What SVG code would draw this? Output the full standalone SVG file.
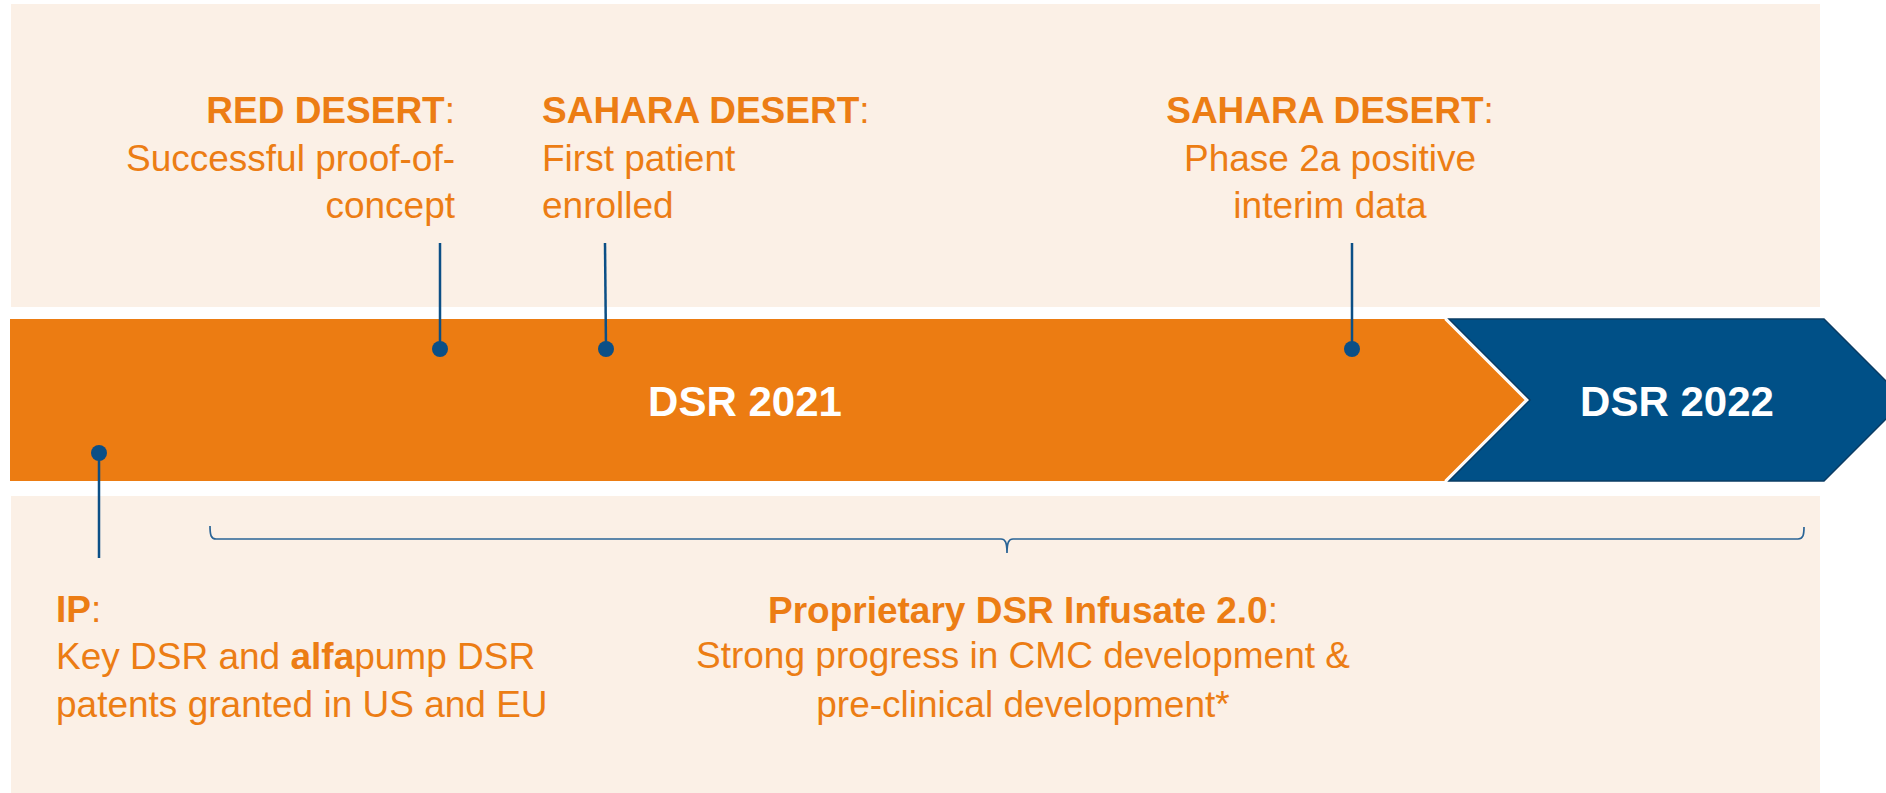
<svg xmlns="http://www.w3.org/2000/svg" width="1886" height="793" viewBox="0 0 1886 793">
  <style>
    .band { fill: #fbf0e6; }
    .lbl { font-family: "Liberation Sans", Arial, sans-serif; font-size: 37px; fill: #ec7d14; }
    .b { font-weight: bold; }
    .year { font-family: "Liberation Sans", Arial, sans-serif; font-size: 42px; font-weight: bold; fill: #ffffff; text-anchor: middle; }
    .stem { stroke: #0b4f86; stroke-width: 2.5; fill: none; }
    .dot { fill: #0b4f86; }
    .brace { stroke: #2a6496; stroke-width: 1.7; fill: none; }
  </style>
  <rect width="1886" height="793" fill="#ffffff"/>

  <!-- background bands -->
  <rect class="band" x="11" y="4" width="1809" height="303"/>
  <rect class="band" x="11" y="496" width="1809" height="297"/>

  <!-- timeline arrows -->
  <g id="arrow-2021">
    <polygon points="10,319 1446,319 1527,400 1446,481 10,481" fill="#ec7c12"/>
    <text class="year" x="745" y="416">DSR 2021</text>
  </g>
  <g id="arrow-2022">
    <polygon points="1449,319 1824,319 1905,400 1824,481 1449,481 1530,400" fill="#005087" stroke="#0a3c64" stroke-width="1.5"/>
    <polyline points="1445,319 1526,400 1445,481" fill="none" stroke="#ffffff" stroke-width="2"/>
    <text class="year" x="1677" y="416">DSR 2022</text>
  </g>

  <!-- milestone leaders and brace -->
  <g id="connectors">
    <line class="stem" x1="440" y1="243" x2="440" y2="349"/>
    <circle class="dot" cx="440" cy="349" r="8"/>
    <line class="stem" x1="605" y1="243" x2="606" y2="349"/>
    <circle class="dot" cx="606" cy="349" r="8"/>
    <line class="stem" x1="1352" y1="243" x2="1352" y2="349"/>
    <circle class="dot" cx="1352" cy="349" r="8"/>
    <line class="stem" x1="99" y1="453" x2="99" y2="558"/>
    <circle class="dot" cx="99" cy="453" r="8"/>
    <path class="brace" d="M210,526 C210,535 211,539 216,539 L1001,539 C1005,539 1007,542 1007,553 C1007,542 1009,539 1013,539 L1798,539 C1803,539 1804,535 1804,527"/>
  </g>

  <!-- milestone labels -->
  <g id="red-desert">
    <text class="lbl" text-anchor="end"><tspan x="455" y="123"><tspan class="b">RED DESERT</tspan>:</tspan><tspan x="455" y="171">Successful proof-of-</tspan><tspan x="455" y="218">concept</tspan></text>
  </g>
  <g id="sahara-first-patient">
    <text class="lbl"><tspan x="542" y="123"><tspan class="b">SAHARA DESERT</tspan>:</tspan><tspan x="542" y="171">First patient</tspan><tspan x="542" y="218">enrolled</tspan></text>
  </g>
  <g id="sahara-phase2a">
    <text class="lbl" text-anchor="middle"><tspan x="1330" y="123"><tspan class="b">SAHARA DESERT</tspan>:</tspan><tspan x="1330" y="171">Phase 2a positive</tspan><tspan x="1330" y="218">interim data</tspan></text>
  </g>
  <g id="ip">
    <text class="lbl"><tspan x="56" y="622"><tspan class="b">IP</tspan>:</tspan><tspan x="56" y="669">Key DSR and <tspan class="b">alfa</tspan>pump DSR</tspan><tspan x="56" y="717">patents granted in US and EU</tspan></text>
  </g>
  <g id="infusate">
    <text class="lbl" text-anchor="middle"><tspan x="1023" y="623"><tspan class="b">Proprietary DSR Infusate 2.0</tspan>:</tspan><tspan x="1023" y="668">Strong progress in CMC development &amp;</tspan><tspan x="1023" y="717">pre-clinical development*</tspan></text>
  </g>
</svg>
